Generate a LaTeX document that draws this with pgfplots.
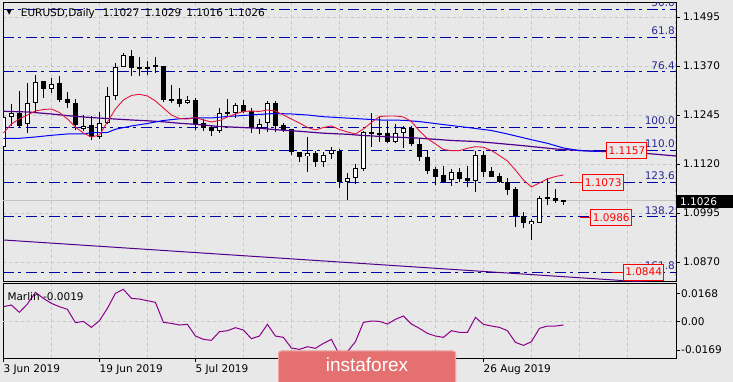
\documentclass[border=0pt]{standalone}
\usepackage{pgfplots}
\pgfplotsset{compat=1.18}
\usepackage{pgfplotstable}
\usepackage{fontspec}
\setmainfont{DejaVu Sans}
\newfontfamily\logofont{Liberation Sans}
\definecolor{bg}{RGB}{232,232,232}
\definecolor{gridc}{RGB}{198,198,198}
\definecolor{curc}{RGB}{196,196,196}
\definecolor{fibc}{RGB}{0,0,160}
\definecolor{fibt}{RGB}{40,40,150}
\definecolor{mared}{RGB}{230,20,60}
\definecolor{mablue}{RGB}{0,0,255}
\definecolor{mapurp}{RGB}{80,0,140}
\definecolor{marlinc}{RGB}{140,0,140}
\definecolor{logoc}{RGB}{228,112,112}

\pgfplotstableread{
i o h l c
0 1.11642 1.12450 1.11583 1.12392
1 1.12392 1.12731 1.12170 1.12494
2 1.12509 1.13063 1.12144 1.12170
3 1.12221 1.13259 1.11999 1.12749
4 1.12749 1.13478 1.12509 1.13300
5 1.13318 1.13318 1.12892 1.13106
6 1.13106 1.13394 1.13004 1.13241
7 1.13274 1.13445 1.12790 1.12833
8 1.12851 1.13045 1.12621 1.12749
9 1.12764 1.12851 1.12068 1.12195
10 1.12106 1.12450 1.12042 1.12170
11 1.12195 1.12425 1.11813 1.11897
12 1.11897 1.12535 1.11831 1.12239
13 1.12239 1.13172 1.12221 1.12935
14 1.12935 1.13769 1.12833 1.13667
15 1.13683 1.14040 1.13667 1.13973
16 1.13955 1.14109 1.13445 1.13642
17 1.13667 1.13922 1.13445 1.13642
18 1.13667 1.13828 1.13471 1.13642
19 1.13667 1.13922 1.13529 1.13718
20 1.13700 1.13700 1.12790 1.12833
21 1.12851 1.13216 1.12769 1.12825
22 1.12851 1.13132 1.12662 1.12739
23 1.12769 1.12948 1.12731 1.12833
24 1.12833 1.12876 1.12068 1.12221
25 1.12239 1.12353 1.12042 1.12111
26 1.12137 1.12195 1.11915 1.12050
27 1.12050 1.12621 1.11999 1.12494
28 1.12527 1.12859 1.12425 1.12468
29 1.12509 1.12764 1.12366 1.12698
30 1.12705 1.12833 1.12494 1.12535
31 1.12560 1.12629 1.11999 1.12111
32 1.12111 1.12356 1.11966 1.12221
33 1.12239 1.12815 1.12024 1.12749
34 1.12749 1.12815 1.12024 1.12177
35 1.12188 1.12254 1.12024 1.12068
36 1.12086 1.12086 1.11430 1.11514
37 1.11514 1.11514 1.11259 1.11366
38 1.11404 1.11882 1.10996 1.11473
39 1.11489 1.11540 1.11116 1.11259
40 1.11244 1.11499 1.11116 1.11430
41 1.11456 1.11642 1.11320 1.11558
42 1.11540 1.11575 1.10581 1.10749
43 1.10741 1.10963 1.10282 1.10836
44 1.10836 1.11200 1.10690 1.11091
45 1.11065 1.12050 1.11029 1.12017
46 1.12017 1.12494 1.11642 1.11958
47 1.11991 1.12392 1.11769 1.11966
48 1.11984 1.12305 1.11744 1.11769
49 1.11769 1.12221 1.11728 1.11984
50 1.11984 1.12170 1.11601 1.12111
51 1.12111 1.12170 1.11660 1.11703
52 1.11711 1.11831 1.11285 1.11371
53 1.11371 1.11558 1.10945 1.11029
54 1.11065 1.11132 1.10665 1.10876
55 1.10920 1.11149 1.10716 1.10749
56 1.10792 1.11065 1.10639 1.10989
57 1.10996 1.11091 1.10749 1.10810
58 1.10836 1.11149 1.10621 1.10774
59 1.10774 1.11540 1.10494 1.11422
60 1.11422 1.11540 1.10876 1.11004
61 1.11022 1.11132 1.10861 1.10876
62 1.10894 1.10978 1.10708 1.10749
63 1.10749 1.10836 1.10410 1.10537
64 1.10555 1.10621 1.09601 1.09874
65 1.09874 1.09984 1.09575 1.09688
66 1.09662 1.09790 1.09262 1.09746
67 1.09703 1.10384 1.09688 1.10325
68 1.10351 1.10836 1.10154 1.10308
69 1.10325 1.10555 1.10198 1.10264
70 1.10270 1.10290 1.10160 1.10260
}\candles

\pgfplotstableread{
i v
0 1.11991
1 1.12221
2 1.12348
3 1.12450
4 1.12552
5 1.12591
6 1.12603
7 1.12514
8 1.12348
9 1.12144
10 1.11991
11 1.11889
12 1.11940
13 1.12272
14 1.12603
15 1.12833
16 1.12948
17 1.12978
18 1.12935
19 1.12808
20 1.12629
21 1.12450
22 1.12361
23 1.12348
24 1.12387
25 1.12323
26 1.12272
27 1.12310
28 1.12399
29 1.12476
30 1.12540
31 1.12552
32 1.12540
33 1.12578
34 1.12552
35 1.12450
36 1.12348
37 1.12246
38 1.12132
39 1.12068
40 1.12132
41 1.12170
42 1.12081
43 1.12017
44 1.11966
45 1.12093
46 1.12259
47 1.12412
48 1.12425
49 1.12425
50 1.12399
51 1.12285
52 1.12042
53 1.11851
54 1.11711
55 1.11570
56 1.11540
57 1.11540
58 1.11601
59 1.11642
60 1.11626
61 1.11545
62 1.11417
63 1.11277
64 1.11047
65 1.10792
66 1.10614
67 1.10716
68 1.10818
69 1.10881
70 1.10920
}\redma

\pgfplotstableread{
i v
0 1.11856
2 1.11856
4 1.11889
6 1.11932
8 1.11966
10 1.11966
11 1.11999
13 1.12004
14 1.12086
16 1.12170
18 1.12234
20 1.12310
22 1.12353
24 1.12374
26 1.12374
28 1.12412
30 1.12438
32 1.12466
34 1.12489
36 1.12476
38 1.12450
40 1.12407
43 1.12371
47 1.12323
50 1.12315
52 1.12282
55 1.12206
57 1.12157
59 1.12106
61 1.12055
63 1.11966
66 1.11820
68 1.11728
70 1.11609
72 1.11542
74.5 1.11519
}\bluema

\pgfplotstableread{
i v
0 1.12545
3 1.12527
6 1.12476
8 1.12433
10.5 1.12392
13 1.12359
16 1.12323
18 1.12302
20 1.12277
22 1.12239
24 1.12213
27 1.12157
30 1.12129
32 1.12111
35 1.12060
37 1.12035
40 1.11986
43 1.11958
45 1.11927
48 1.11894
52 1.11859
56 1.11800
59 1.11774
61 1.11741
65 1.11667
69 1.11583
72 1.11545
80 1.11476
84.1 1.11404
}\purpma

\pgfplotstableread{
i v
0 0.00891
1 0.00990
2 0.00554
3 0.01049
4 0.01742
5 0.01386
6 0.01089
7 0.00891
8 0.00733
9 -0.00059
10 0.00020
11 -0.00337
12 0.00059
13 0.00792
14 0.01683
15 0.01921
16 0.01386
17 0.01346
18 0.01247
19 0.01148
20 -0.00040
21 -0.00099
22 -0.00198
23 -0.00158
24 -0.00851
25 -0.01049
26 -0.01109
27 -0.00594
28 -0.00535
29 -0.00356
30 -0.00495
31 -0.01010
32 -0.00851
33 -0.00158
34 -0.00851
35 -0.00931
36 -0.01564
37 -0.01643
38 -0.01485
39 -0.01584
40 -0.01287
41 -0.01049
42 -0.01980
43 -0.01782
44 -0.01188
45 -0.00040
46 0.00040
47 0.00020
48 -0.00139
49 0.00139
50 0.00337
51 -0.00139
52 -0.00396
53 -0.00693
54 -0.00851
55 -0.00931
56 -0.00535
57 -0.00634
58 -0.00634
59 0.00257
60 -0.00158
61 -0.00257
62 -0.00337
63 -0.00535
64 -0.01228
65 -0.01406
66 -0.01188
67 -0.00396
68 -0.00257
69 -0.00257
70 -0.00198
}\marlin

\begin{document}
\begin{tikzpicture}[font=\fontsize{10.5}{12}\selectfont]
\fill[bg] (0pt,0pt) rectangle (733pt,382pt);

\begin{axis}[
 at={(3pt,100pt)}, anchor=south west, scale only axis,
 width=673pt, height=279.5pt,
 xmin=-0.05, xmax=84.07, ymin=1.08190, ymax=1.15320,
 axis background/.style={fill=bg},
 axis line style={black, line width=1pt},
 xtick={0,6,...,84}, xticklabels={}, xtick style={draw=none},
 ytick={1.0870,1.0995,1.1120,1.1245,1.1370,1.1495},
 yticklabels={1.0870,1.0995,1.1120,1.1245,1.1370,1.1495},
 scaled y ticks=false,
 ytick pos=right, yticklabel pos=right, tick align=outside,
 major tick length=4pt, ytick style={black, line width=1pt},
 tick label style={font=\fontsize{10.5}{12}\selectfont},
 yticklabel style={anchor=west, inner sep=0pt, xshift=3pt},
 grid=major, major grid style={gridc, dash pattern=on 3pt off 3pt, line width=1pt},
]
\addplot[curc, line width=1pt] coordinates {(-0.05,1.1026) (84.07,1.1026)};
\pgfplotsinvokeforeach{1.15144,1.14430,1.13550,1.12137,1.11550,1.10730,1.09850,1.08440}{
 \addplot[fibc, line width=1pt, dash pattern=on 11pt off 4pt on 3pt off 5pt] coordinates {(-0.05,#1) (84.07,#1)};
}
\node[fibt, anchor=base east, inner sep=0pt, yshift=2.5pt] at (axis cs:83.95,1.15144) {50.0};
\node[fibt, anchor=base east, inner sep=0pt, yshift=2.5pt] at (axis cs:83.95,1.14430) {61.8};
\node[fibt, anchor=base east, inner sep=0pt, yshift=2.5pt] at (axis cs:83.95,1.13550) {76.4};
\node[fibt, anchor=base east, inner sep=0pt, yshift=2.5pt] at (axis cs:83.95,1.12137) {100.0};
\node[fibt, anchor=base east, inner sep=0pt, yshift=2.5pt] at (axis cs:83.95,1.11550) {110.0};
\node[fibt, anchor=base east, inner sep=0pt, yshift=2.5pt] at (axis cs:83.95,1.10730) {123.6};
\node[fibt, anchor=base east, inner sep=0pt, yshift=2.5pt] at (axis cs:83.95,1.09850) {138.2};
\node[fibt, anchor=base east, inner sep=0pt, yshift=2.5pt] at (axis cs:83.95,1.08440) {161.8};

% trend line
\addplot[mapurp, line width=1pt] coordinates {(0,1.09262) (84.1,1.08137)};

% candles: wicks, bodies
\addplot[draw=none, mark=none, forget plot, error bars/.cd, y dir=both, y explicit, error mark=none,
  error bar style={draw=black, solid, line width=1pt}]
  table[x=i, y expr={(\thisrow{h}+\thisrow{l})/2}, y error expr={(\thisrow{h}-\thisrow{l})/2}] {\candles};
\addplot[draw=none, mark=none, forget plot, error bars/.cd, y dir=both, y explicit, error mark=none,
  error bar style={draw=black, solid, line width=5pt}]
  table[x=i, y expr={(\thisrow{o}+\thisrow{c})/2}, y error expr={max(abs(\thisrow{o}-\thisrow{c})/2,0.00013)}] {\candles};
\addplot[draw=none, mark=none, forget plot, error bars/.cd, y dir=both, y explicit, error mark=none,
  error bar style={draw=white, solid, line width=3pt}]
  table[x=i, y expr={(\thisrow{o}+\thisrow{c})/2}, y error expr={max((\thisrow{c}-\thisrow{o})/2-0.000255,0)}] {\candles};

% moving averages
\addplot[mapurp, line width=1.2pt] table[x=i,y=v] {\purpma};
\addplot[mablue, line width=1pt] table[x=i,y=v] {\bluema};
\addplot[mared, line width=0.9pt] table[x=i,y=v] {\redma};

% price boxes
\draw[red, line width=1pt] (axis cs:71.125,1.10730) -- (axis cs:72.34,1.10730);
\draw[red, line width=1pt] (axis cs:72.125,1.09841) -- (axis cs:73.375,1.09841);
\draw[red, line width=1pt] (axis cs:76.125,1.08445) -- (axis cs:77.46,1.08445);
\draw[fibc, line width=1pt] (axis cs:74,1.11550) -- (axis cs:75.375,1.11550);
\node[draw=red, fill=bg, text=red, line width=1pt, anchor=west, minimum width=40pt, minimum height=16pt, inner sep=0pt] at (axis cs:75.375,1.11550) {1.1157};
\node[draw=red, fill=bg, text=red, line width=1pt, anchor=west, minimum width=41pt, minimum height=16pt, inner sep=0pt] at (axis cs:72.34,1.10730) {1.1073};
\node[draw=red, fill=bg, text=red, line width=1pt, anchor=west, minimum width=40.7pt, minimum height=16pt, inner sep=0pt] at (axis cs:73.375,1.09841) {1.0986};
\node[draw=red, fill=bg, text=red, line width=1pt, anchor=west, minimum width=40pt, minimum height=16pt, inner sep=0pt] at (axis cs:77.46,1.08445) {1.0844};
\end{axis}

\begin{axis}[
 at={(3pt,23.7pt)}, anchor=south west, scale only axis,
 width=673pt, height=74.3pt,
 xmin=-0.05, xmax=84.07, ymin=-0.02174, ymax=0.02239,
 axis background/.style={fill=bg},
 axis line style={black, line width=1pt},
 xtick={0,12,24,36,48,60},
 xticklabels={3 Jun 2019,19 Jun 2019,5 Jul 2019,{},{},26 Aug 2019},
 minor xtick={6,18,30,42,54,66,72,78},
 xtick pos=bottom,
 ytick={-0.0169,0,0.0168}, yticklabels={-0.0169,0.00,0.0168},
 scaled y ticks=false,
 ytick pos=right, yticklabel pos=right, tick align=outside,
 major tick length=4pt, minor tick length=0pt,
 tick style={black, line width=1pt},
 tick label style={font=\fontsize{10.5}{12}\selectfont},
 xticklabel style={anchor=north west, inner sep=0pt, yshift=-2pt},
 yticklabel style={anchor=west, inner sep=0pt, xshift=1pt},
 xmajorgrids, xminorgrids,
 major grid style={gridc, dash pattern=on 3pt off 3pt, line width=1pt},
 minor grid style={gridc, dash pattern=on 3pt off 3pt, line width=1pt},
]
\addplot[gridc, dash pattern=on 3pt off 3pt, line width=1pt] coordinates {(-0.05,0) (84.07,0)};
\addplot[marlinc, line width=1pt] table[x=i,y=v] {\marlin};
\end{axis}

\begin{scope}[x=1pt,y=1pt]
% title and labels
\node[anchor=base west, inner sep=0pt] at (6.5,367) {\fontsize{7}{7}\selectfont ▼};
\node[anchor=base west, inner sep=0pt] at (20.7,365.3) {EURUSD,Daily\hspace{8pt}1.1027\hspace{5pt}1.1029\hspace{5pt}1.1016\hspace{5pt}1.1026};
\node[anchor=base west, inner sep=0pt] at (7.3,81.3) {Marlin -0.0019};

% current price marker
\fill[black] (677,173.7) rectangle (733,187);
\node[white, anchor=west, inner sep=0pt] at (680,180.3) {1.1026};

% logo
\fill[logoc, rounded corners=3pt] (278,-5) rectangle (456,31.3);
\draw[logoc!60!white, line width=0.8pt, rounded corners=3pt] (278.4,-5) rectangle (455.6,30.9);
\node[white, anchor=base, inner sep=0pt] at (367,10) {\logofont\fontsize{19}{19}\selectfont instaforex};

\pgfresetboundingbox
\useasboundingbox (0,0) rectangle (733,382);
\end{scope}
\end{tikzpicture}
\end{document}
